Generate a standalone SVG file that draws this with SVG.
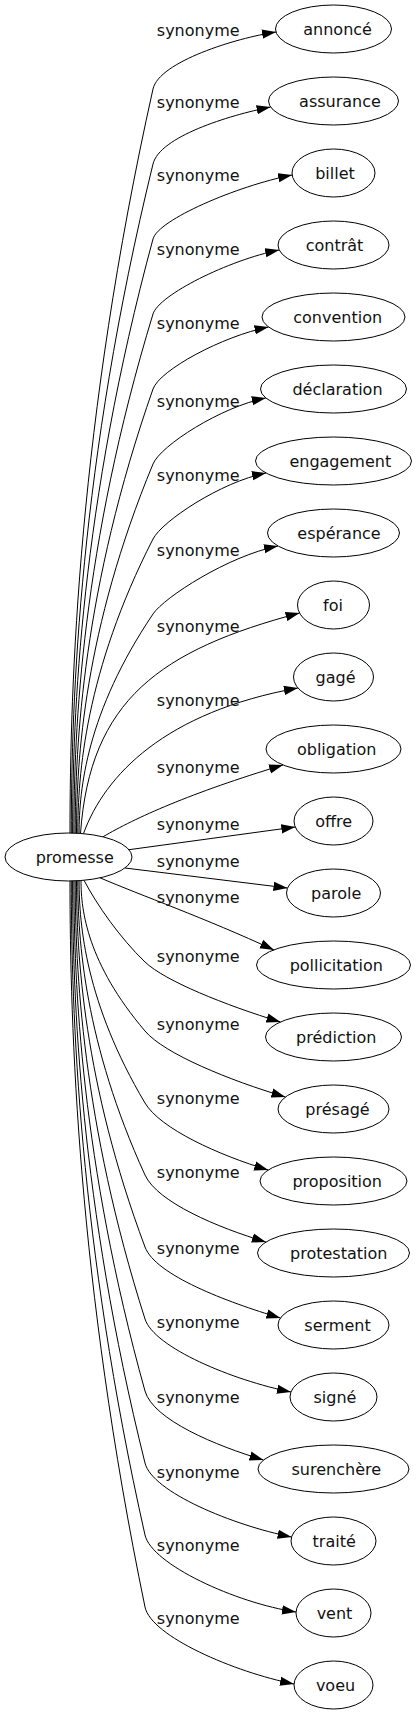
<svg xmlns="http://www.w3.org/2000/svg" width="416" height="1715" viewBox="0 0 416 1715">
<defs>
<style>
.n ellipse{fill:none;stroke:#000;stroke-width:1}
text{font-family:"DejaVu Sans","Liberation Sans",sans-serif;font-size:16px;fill:#111;text-anchor:middle}
#edges path{fill:none;stroke:#000;stroke-width:1;marker-end:url(#a)}
</style>
<marker id="a" viewBox="0 0 14 10" refX="14" refY="5" markerWidth="14" markerHeight="10" markerUnits="userSpaceOnUse" orient="auto"><path d="M0,0.3 L14,5 L0,9.7 z" fill="#000"/></marker>
</defs>
<rect width="416" height="1715" fill="#fff"/>
<g id="edges">
<g><path d="M70,833.2 C70,684.4 78.3,423.9 153,89 C159.1,61.7 236,38 276,32"/><text x="198.2" y="36">synonyme</text></g>
<g><path d="M71.3,833.2 C71.3,699.4 79.5,465.1 153,164 C159.6,136.8 228,115.5 270.6,107"/><text x="198.2" y="108">synonyme</text></g>
<g><path d="M72.6,833.2 C72.6,714.4 80.6,506.4 153,239 C158.2,219.7 236.5,186.1 292.1,175"/><text x="198.2" y="181">synonyme</text></g>
<g><path d="M73.9,833.2 C73.9,729.4 81.8,547.6 153,314 C158.8,294.9 228.7,260.1 279.2,250"/><text x="198.2" y="255">synonyme</text></g>
<g><path d="M75.2,833.2 C75.2,744.4 83,588.9 153,389 C159.6,370.1 222.3,336.2 268.5,327"/><text x="198.2" y="329">synonyme</text></g>
<g><path d="M76.5,833.2 C76.5,759.4 84.2,630.1 153,464 C160.7,445.5 220.7,407 265.8,398"/><text x="198.2" y="407">synonyme</text></g>
<g><path d="M77.8,833.2 C77.8,774.4 85.3,671.4 153,539 C162.1,521.2 220.8,482 266,473"/><text x="198.2" y="481">synonyme</text></g>
<g><path d="M79.1,833.2 C79.1,789.4 86.5,712.6 153,614 C164.2,597.4 228,556 278,546"/><text x="198.2" y="556">synonyme</text></g>
<g><path d="M80.5,833.4 C90,700 160,650 299.6,613"/><text x="198.2" y="632">synonyme</text></g>
<g><path d="M83.5,833.5 C105,775 165,712 297.9,688"/><text x="198.2" y="706">synonyme</text></g>
<g><path d="M103,836.8 C135,818 190,793 283,765"/><text x="198.2" y="773">synonyme</text></g>
<g><path d="M129,849.7 L295.3,827"/><text x="198.2" y="830">synonyme</text></g>
<g><path d="M125,868 L287.5,888"/><text x="198.2" y="867">synonyme</text></g>
<g><path d="M100,877.8 C140,895 205,918 274,950"/><text x="198.2" y="903">synonyme</text></g>
<g><path d="M84,880.3 C97,905 120,938 145,962 C165,981 225,1005 280.4,1022"/><text x="198.2" y="962">synonyme</text></g>
<g><path d="M81,880.6 C81,910.7 87.4,963.3 145,1031 C164.4,1053.9 229.2,1080.2 285.4,1097"/><text x="198.2" y="1030">synonyme</text></g>
<g><path d="M79.1,880.8 C79.1,925.2 85.7,1003 145,1103 C160.3,1128.8 218.9,1155.2 268.2,1170"/><text x="198.2" y="1104">synonyme</text></g>
<g><path d="M77.8,880.8 C77.8,939.6 84.5,1042.6 145,1175 C157.5,1202.3 217.5,1227.5 265.9,1242"/><text x="198.2" y="1178">synonyme</text></g>
<g><path d="M76.5,880.8 C76.5,954 83.35,1082.2 145,1247 C155.5,1275.1 226.2,1301.8 280.4,1318"/><text x="198.2" y="1254">synonyme</text></g>
<g><path d="M75.2,880.8 C75.2,968.4 82.2,1121.8 145,1319 C154.1,1347.6 232.6,1380.3 291,1392"/><text x="198.2" y="1328">synonyme</text></g>
<g><path d="M73.9,880.8 C73.9,982.8 81,1161.4 145,1391 C153.1,1419.9 216.1,1445.8 263.5,1460"/><text x="198.2" y="1403">synonyme</text></g>
<g><path d="M72.6,880.8 C72.6,997.2 79.8,1201 145,1463 C152.2,1492.1 233,1525.3 291.6,1537"/><text x="198.2" y="1478">synonyme</text></g>
<g><path d="M71.3,880.8 C71.3,1011.6 78.7,1240.6 145,1535 C151.6,1564.3 235.6,1602.9 296,1612"/><text x="198.2" y="1551">synonyme</text></g>
<g><path d="M70,880.8 C70,1026.2 77.5,1280.3 145,1607 C151.1,1636.4 234.4,1672.1 294,1684"/><text x="198.2" y="1624">synonyme</text></g>
</g>
<g id="promesse" class="n"><ellipse cx="68.5" cy="857" rx="63.5" ry="24"/><text x="74.7" y="862.5">promesse</text></g>
<g id="annonce" class="n"><ellipse cx="333.5" cy="29" rx="58" ry="24"/><text x="337.6" y="34.5">annoncé</text></g>
<g id="assurance" class="n"><ellipse cx="333.5" cy="101" rx="65" ry="24"/><text x="340" y="106.5">assurance</text></g>
<g id="billet" class="n"><ellipse cx="333.5" cy="173" rx="41.5" ry="24"/><text x="335" y="178.5">billet</text></g>
<g id="contrat" class="n"><ellipse cx="333.5" cy="245" rx="55.5" ry="24"/><text x="334.5" y="250.5">contrât</text></g>
<g id="convention" class="n"><ellipse cx="333.5" cy="317" rx="71.5" ry="24"/><text x="337.7" y="322.5">convention</text></g>
<g id="declaration" class="n"><ellipse cx="333.5" cy="389" rx="73" ry="24"/><text x="337.5" y="394.5">déclaration</text></g>
<g id="engagement" class="n"><ellipse cx="333.5" cy="461" rx="78" ry="24"/><text x="340.3" y="466.5">engagement</text></g>
<g id="esperance" class="n"><ellipse cx="333.5" cy="533" rx="66" ry="24"/><text x="339" y="538.5">espérance</text></g>
<g id="foi" class="n"><ellipse cx="333.5" cy="605" rx="36" ry="24"/><text x="333" y="610.5">foi</text></g>
<g id="gage" class="n"><ellipse cx="333.5" cy="677" rx="40" ry="24"/><text x="335.5" y="682.5">gagé</text></g>
<g id="obligation" class="n"><ellipse cx="333.5" cy="749" rx="67.5" ry="24"/><text x="336.7" y="754.5">obligation</text></g>
<g id="offre" class="n"><ellipse cx="333.5" cy="821" rx="39.5" ry="24"/><text x="333.7" y="826.5">offre</text></g>
<g id="parole" class="n"><ellipse cx="333.5" cy="893" rx="47" ry="24"/><text x="336.2" y="898.5">parole</text></g>
<g id="pollicitation" class="n"><ellipse cx="333.5" cy="965" rx="77" ry="24"/><text x="336.3" y="970.5">pollicitation</text></g>
<g id="prediction" class="n"><ellipse cx="333.5" cy="1037" rx="68" ry="24"/><text x="336.2" y="1042.5">prédiction</text></g>
<g id="presage" class="n"><ellipse cx="333.5" cy="1109" rx="55.5" ry="24"/><text x="337.5" y="1114.5">présagé</text></g>
<g id="proposition" class="n"><ellipse cx="333.5" cy="1181" rx="73.5" ry="24"/><text x="337.2" y="1186.5">proposition</text></g>
<g id="protestation" class="n"><ellipse cx="333.5" cy="1253" rx="76" ry="24"/><text x="338.7" y="1258.5">protestation</text></g>
<g id="serment" class="n"><ellipse cx="333.5" cy="1325" rx="55.5" ry="24"/><text x="337.5" y="1330.5">serment</text></g>
<g id="signe" class="n"><ellipse cx="333.5" cy="1397" rx="43.5" ry="24"/><text x="335" y="1402.5">signé</text></g>
<g id="surenchere" class="n"><ellipse cx="333.5" cy="1469" rx="75.5" ry="24"/><text x="336.3" y="1474.5">surenchère</text></g>
<g id="traite" class="n"><ellipse cx="333.5" cy="1541" rx="42.5" ry="24"/><text x="334.2" y="1546.5">traité</text></g>
<g id="vent" class="n"><ellipse cx="333.5" cy="1613" rx="37.5" ry="24"/><text x="334.5" y="1618.5">vent</text></g>
<g id="voeu" class="n"><ellipse cx="333.5" cy="1685" rx="39.5" ry="24"/><text x="335.5" y="1690.5">voeu</text></g>
</svg>
